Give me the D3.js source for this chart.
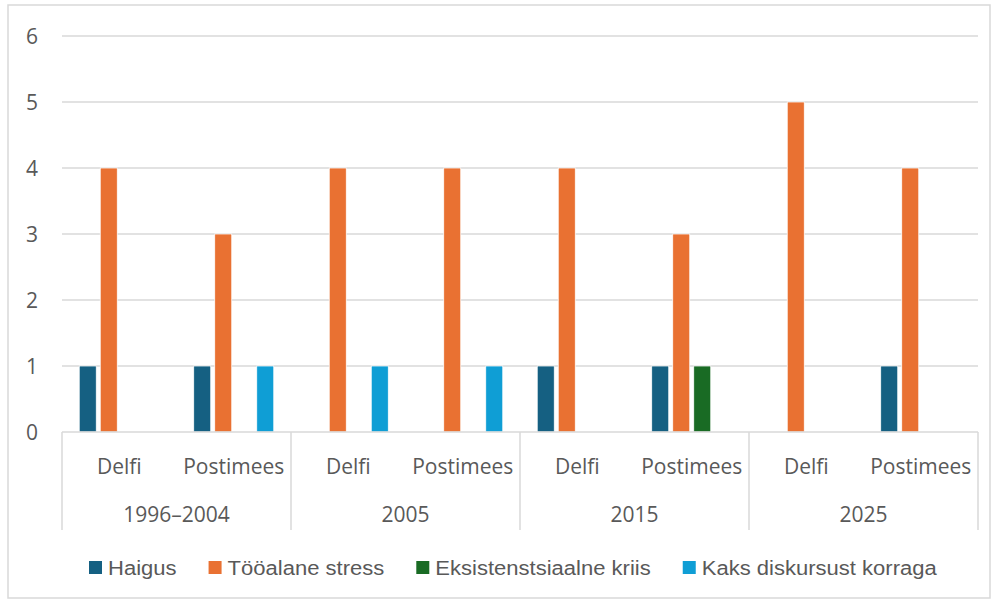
<!DOCTYPE html>
<html>
<head>
<meta charset="utf-8">
<script src="https://cdn.jsdelivr.net/npm/d3@7"></script>
<style>
    body { margin: 0; background: #fff; }
    text { fill: #595959; }
</style>
</head>
<body>
<div class="visualGraph"></div>
<script>
// categories
const years = ["1996–2004", "2005", "2015", "2025"];
const outlets = ["Delfi", "Postimees"];
const seriesNames = ["Haigus", "Tööalane stress", "Eksistenstsiaalne kriis", "Kaks diskursust korraga"];

// values per (year, outlet), in order: 1996 Delfi, 1996 Postimees, 2005 Delfi, ...
const haigus = [1, 1, 0, 0, 1, 1, 0, 1];
const stress = [4, 3, 4, 4, 4, 3, 5, 4];
const kriis  = [0, 0, 0, 0, 0, 1, 0, 0];
const kaks   = [0, 1, 1, 1, 0, 0, 0, 0];

const yTicks = [0, 1, 2, 3, 4, 5, 6];
const colors = ["#156082", "#E97132", "#196B24", "#0F9ED5"];

const width = 994, height = 603;
const plot = { left: 62, right: 978, top: 36, bottom: 432 };
const axisFont = "'Open Sans', sans-serif";

const seriesValues = [haigus, stress, kriis, kaks];
const cats = years.flatMap(y => outlets.map(o => y + "|" + o));

const svg = d3.select(".visualGraph")
    .append("svg")
    .attr("width", width)
    .attr("height", height)
    .attr("viewBox", [0, 0, width, height]);

// chart border
svg.append("rect")
    .attr("x", 8).attr("y", 5)
    .attr("width", 982).attr("height", 593)
    .attr("fill", "#fff")
    .attr("stroke", "#d9d9d9")
    .attr("stroke-width", 1.5);

const y = d3.scaleLinear().domain([0, 6]).range([plot.bottom, plot.top]);
const x0 = d3.scaleBand().domain(cats).range([plot.left, plot.right]);
const xYear = d3.scaleBand().domain(years).range([plot.left, plot.right]);
const x1 = d3.scaleBand().domain(seriesNames)
    .range([0, x0.bandwidth()])
    .paddingInner(0.19)
    .paddingOuter(0.82);

// gridlines
svg.append("g")
    .selectAll("line")
    .data(yTicks.filter(d => d > 0))
    .join("line")
    .attr("x1", plot.left).attr("x2", plot.right)
    .attr("y1", d => y(d)).attr("y2", d => y(d))
    .attr("stroke", "#d9d9d9")
    .attr("stroke-width", 1.5);

// y tick labels
svg.append("g")
    .selectAll("text")
    .data(yTicks)
    .join("text")
    .attr("x", 32)
    .attr("y", d => y(d))
    .attr("dy", "0.36em")
    .attr("text-anchor", "middle")
    .style("font-family", axisFont)
    .style("font-size", "21px")
    .text(d => d);

// bars
const groups = svg.append("g")
    .selectAll("g")
    .data(cats)
    .join("g")
    .attr("transform", d => `translate(${x0(d)},0)`);

groups.selectAll("rect")
    .data((d, i) => seriesNames.map((s, k) => ({ s, v: seriesValues[k][i], k })))
    .join("rect")
    .filter(d => d.v > 0)
    .attr("x", d => x1(d.s))
    .attr("width", x1.bandwidth())
    .attr("y", d => y(d.v))
    .attr("height", d => y(0) - y(d.v))
    .attr("fill", d => colors[d.k])
    .attr("stroke", "#fff")
    .attr("stroke-width", 0.75);

// category axis: baseline + separators
const axisBottom = 530;
svg.append("line")
    .attr("x1", plot.left).attr("x2", plot.right)
    .attr("y1", y(0)).attr("y2", y(0))
    .attr("stroke", "#d9d9d9")
    .attr("stroke-width", 1.5);

svg.append("g")
    .selectAll("line")
    .data(years.concat(["end"]))
    .join("line")
    .attr("x1", d => d === "end" ? plot.right : xYear(d))
    .attr("x2", d => d === "end" ? plot.right : xYear(d))
    .attr("y1", y(0)).attr("y2", axisBottom)
    .attr("stroke", "#d9d9d9")
    .attr("stroke-width", 1.5);

// outlet labels
svg.append("g")
    .selectAll("text")
    .data(cats)
    .join("text")
    .attr("x", d => x0(d) + x0.bandwidth() / 2)
    .attr("y", 466)
    .attr("dy", "0.36em")
    .attr("text-anchor", "middle")
    .style("font-family", axisFont)
    .style("font-size", "21px")
    .text(d => d.split("|")[1]);

// year labels
svg.append("g")
    .selectAll("text")
    .data(years)
    .join("text")
    .attr("x", d => xYear(d) + xYear.bandwidth() / 2)
    .attr("y", 514)
    .attr("dy", "0.36em")
    .attr("text-anchor", "middle")
    .style("font-family", axisFont)
    .style("font-size", "21px")
    .text(d => d);

// legend (narrow face in the original, so squeeze a regular one)
const legend = svg.append("g")
    .selectAll("g")
    .data(seriesNames)
    .join("g");

legend.append("rect")
    .attr("y", -6.5)
    .attr("width", 13).attr("height", 13)
    .attr("fill", (d, i) => colors[i]);

const legendText = legend.append("text")
    .attr("dy", "0.36em")
    .style("font-family", "'Liberation Sans', sans-serif")
    .style("font-size", "21px")
    .text(d => d);

// squeeze to the width the narrow font takes (~676px for all four labels)
let natural = 0;
legendText.each(function() { natural += this.getComputedTextLength(); });
const squeeze = 676 / natural;
legendText.attr("transform", `translate(19,0) scale(${squeeze},1)`);

// lay items out left to right
let lx = 89;
legend.each(function() {
    const w = d3.select(this).select("text").node().getComputedTextLength() * squeeze;
    d3.select(this).attr("transform", `translate(${lx},567.5)`);
    lx += 19 + w + 32;
});
</script>
</body>
</html>
